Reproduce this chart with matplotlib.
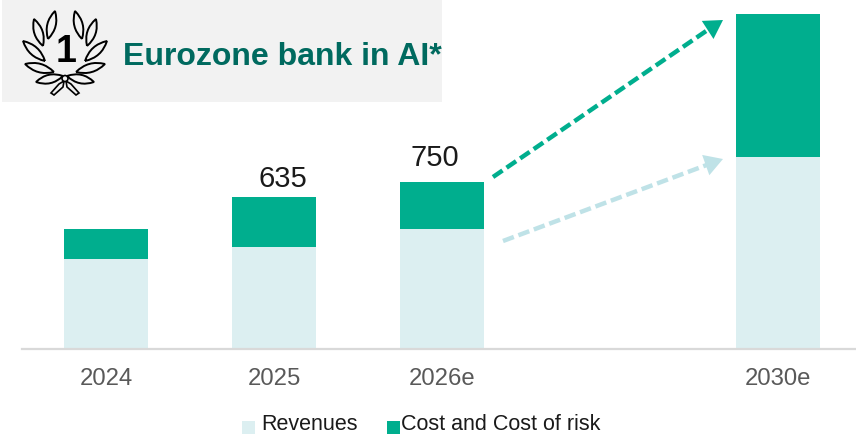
import matplotlib
matplotlib.use('Agg')
import matplotlib.pyplot as plt
from matplotlib.patches import Rectangle, PathPatch, Circle, Polygon
from matplotlib.path import Path
import numpy as np

plt.rcParams['font.family'] = ['Liberation Sans', 'DejaVu Sans']

# Values, scaled so that the 2026e stack is 750
years = ['2024', '2025', '2026e', '2030e']
year_pos = [0, 1, 2, 4]
revenues = [404, 458, 539, 862]
costs = [135, 224, 211, 642]
shown_totals = {1: '635', 2: '750'}

light = '#DCEFF1'
green = '#00AE8E'
arrow_light = '#BFE2E7'
dark_green = '#006A5F'
grey = '#595959'

W, H = 856, 435
fig = plt.figure(figsize=(W / 100, H / 100), dpi=100)

# Bars: baseline sits at y=350 px, axes go from x=22 to the right edge
ax = fig.add_axes([22 / W, (H - 350) / H, (W - 22) / W, 350 / H])
ax.bar(year_pos, revenues, width=0.5, color=light)
ax.bar(year_pos, costs, width=0.5, bottom=revenues, color=green)
ax.set_xlim(-0.5, 4.464)
ax.set_ylim(0, 350 * 4.49)
ax.set_xticks(year_pos)
ax.set_xticklabels(years, fontsize=17.2, color=grey)
ax.tick_params(axis='x', length=0, pad=13)
ax.set_yticks([])
for s in ['top', 'left', 'right']:
    ax.spines[s].set_visible(False)
ax.spines['bottom'].set_color('#D9D9D9')
ax.spines['bottom'].set_linewidth(1.6)
ax.patch.set_alpha(0)

# the two labels do not sit at the same height above their bars
label_dx = {1: 0.05, 2: -0.04}
label_dy = {1: 22, 2: 49}
for i, txt in shown_totals.items():
    ax.text(year_pos[i] + label_dx[i], revenues[i] + costs[i] + label_dy[i], txt,
            ha='center', va='bottom', fontsize=21, color='#1A1A1A')

# Overlay in pixel coordinates for the header, arrows and legend
ov = fig.add_axes([0, 0, 1, 1], zorder=5)
ov.set_xlim(0, W)
ov.set_ylim(H, 0)
ov.axis('off')
ov.patch.set_alpha(0)

ov.add_patch(Rectangle((2, 1), 440, 102, color='#F2F2F2', lw=0, zorder=0))
ov.text(123, 57, 'Eurozone bank in AI*', fontsize=23, fontweight='bold', color=dark_green,
        ha='left', va='center')
ov.text(66, 52, '1', fontsize=27, fontweight='bold', color='black', ha='center', va='center')


def leaf(x0, y0, x1, y1, w):
    # pointed leaf from base to tip, two quadratic sides
    dx, dy = x1 - x0, y1 - y0
    n = np.hypot(dx, dy)
    nx, ny = -dy / n * w, dx / n * w
    mx, my = (x0 + x1) / 2, (y0 + y1) / 2
    verts = [(x0, y0), (mx + nx, my + ny), (x1, y1), (mx - nx, my - ny), (x0, y0)]
    codes = [Path.MOVETO, Path.CURVE3, Path.CURVE3, Path.CURVE3, Path.CURVE3]
    ov.add_patch(PathPatch(Path(verts, codes), fc='none', ec='black', lw=1.4, zorder=3))


cx = 65
leaves = [((48, 40), (55, 12)), ((43, 47), (34, 20)), ((45, 62), (23, 42)),
          ((54, 73), (25, 65)), ((63, 77), (36, 83))]
for (bx, by), (tx, ty) in leaves:
    leaf(bx, by, tx, ty, 8.5)
    leaf(2 * cx - bx, by, 2 * cx - tx, ty, 8.5)
for sgn in [-1, 1]:
    ov.add_patch(Polygon([(cx + sgn * 1, 82), (cx + sgn * 6, 85), (cx + sgn * 14, 94), (cx + sgn * 11, 96),
                          (cx + sgn * 2, 88)], fc='#F2F2F2', ec='black', lw=1.2, zorder=3))
ov.add_patch(Circle((cx, 79.5), 3, fc='#F2F2F2', ec='black', lw=1.2, zorder=4))

# Dashed arrows: shaft as a dashed line, head as a solid triangle
for (x0, y0), (x1, y1), col in [((493, 178), (712, 28), green), ((503, 242), (712, 164), arrow_light)]:
    ov.plot([x0, x1], [y0, y1], color=col, lw=3.2, ls=(0, (2.6, 1.1)), solid_capstyle='butt')
for (x0, y0), (x1, y1), col in [((706, 32), (723, 21), green), ((706, 166), (723, 160), arrow_light)]:
    ov.annotate('', xy=(x1, y1), xytext=(x0, y0),
                arrowprops=dict(arrowstyle='-|>,head_length=0.85,head_width=0.5', color=col, lw=0,
                                shrinkA=0, shrinkB=0, mutation_scale=15.5))

# Legend
ov.add_patch(Rectangle((242, 422), 13, 13, color=light, lw=0))
ov.text(261, 424.5, 'Revenues', fontsize=15.5, color='#1A1A1A', ha='left', va='center')
ov.add_patch(Rectangle((387, 422), 13, 13, color=green, lw=0))
ov.text(401, 424.5, 'Cost and Cost of risk', fontsize=15.5, color='#1A1A1A', ha='left', va='center')

fig.savefig('out.png', dpi=100)
